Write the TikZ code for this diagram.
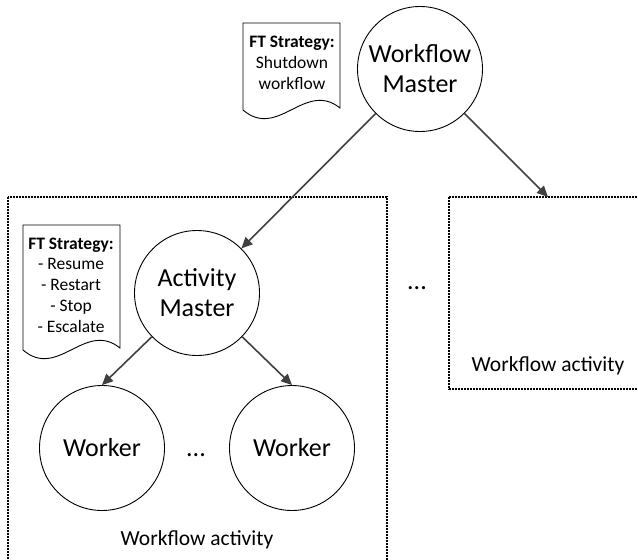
\documentclass[tikz,border=0pt]{standalone}
\usepackage{fontspec}
\setmainfont{Carlito}
\usetikzlibrary{arrows.meta}
\definecolor{arrowgray}{HTML}{404040}
\tikzset{
  proc/.style={circle, draw=black, line width=0.9pt, minimum size=125pt, inner sep=0pt, align=center, font=\fontsize{26}{30}\selectfont},
  flow/.style={draw=arrowgray, line width=1.6pt, -{Triangle[length=11pt,width=10pt]}},
  group/.style={draw=black, line width=1.1pt, dash pattern=on 1.6pt off 1.4pt},
  grouplabel/.style={font=\fontsize{21.5}{24}\selectfont, inner sep=0pt},
  docbox/.style={draw=black, line width=0.9pt, fill=white},
  doctext/.style={align=center, inner sep=0pt, font=\fontsize{17.5}{20.8}\selectfont},
  ellip/.style={inner sep=0pt, font=\fontsize{26}{30}\selectfont}
}
\begin{document}
\begin{tikzpicture}[x=1pt,y=-1pt]
\useasboundingbox (0,0) rectangle (638,560);
% groups
\draw[group] (8,197) rectangle (387,600);
\draw[group] (449,197) rectangle (645,389);
\node[grouplabel] (ga) at (197,540) {Workflow activity};
\node[grouplabel] (gb) at (548,366) {Workflow activity};
\coordinate (gbtop) at (548,197);
% circles
\node[proc] (wm) at (420,69) {Workflow\\Master};
\node[proc] (am) at (197,293) {Activity\\Master};
\node[proc] (w1) at (102,448) {Worker};
\node[proc] (w2) at (292,448) {Worker};
\node[ellip] (d1) at (196,455) {...};
\node[ellip] (d2) at (417,288) {...};
% documents
\draw[docbox] (243,23) -- (340,23) -- (340,108)
  .. controls (305,80) and (278,140) .. (243,110) -- cycle;
\node[doctext] (doc1) at (292,63) {\textbf{FT Strategy:}\\Shutdown\\workflow};
\draw[docbox] (23,225) -- (120,225) -- (120,348)
  .. controls (85,320) and (58,380) .. (23,350) -- cycle;
\node[doctext] (doc2) at (71,285) {\textbf{FT Strategy:}\\- Resume\\- Restart\\- Stop\\- Escalate};
% connectors
\draw[flow] (wm) -- (am);
\draw[flow] (wm) -- (gbtop);
\draw[flow] (am) -- (w1.north);
\draw[flow] (am) -- (w2.north);
\end{tikzpicture}
\end{document}
